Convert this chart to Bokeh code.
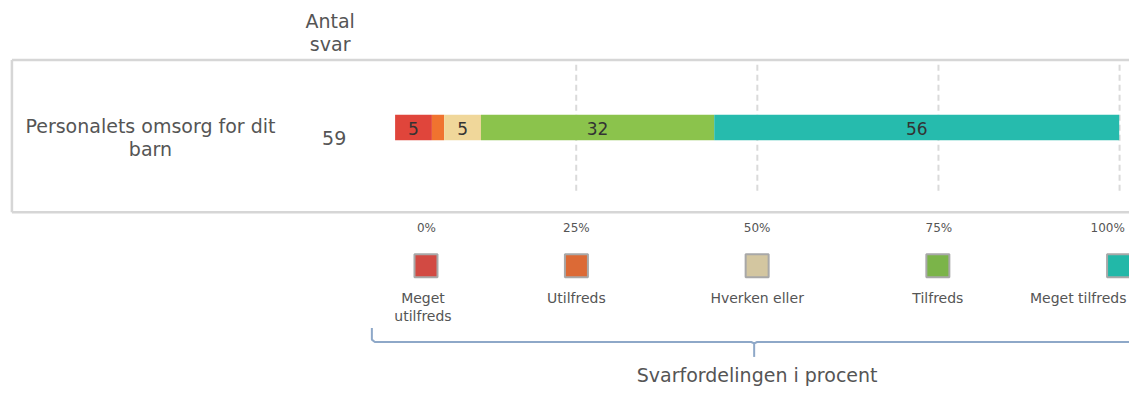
from bokeh.plotting import figure
from bokeh.models import Range1d
from bokeh.embed import file_html
from bokeh.resources import INLINE
from bokeh.core.properties import value

# ---- data ----
question = ["Personalets omsorg for dit", "barn"]
n_answers = 59
categories = ["Meget utilfreds", "Utilfreds", "Hverken eller", "Tilfreds", "Meget tilfreds"]
legend_labels = [["Meget", "utilfreds"], ["Utilfreds"], ["Hverken eller"], ["Tilfreds"], ["Meget tilfreds"]]
percent = [5.08, 1.69, 5.08, 32.2, 55.9]
bar_colors = ["#e0453b", "#f0732f", "#f0d79a", "#8bc34c", "#26bbad"]
legend_colors = ["#d24a43", "#dc6a36", "#d3c6a0", "#7bb449", "#22b8a8"]
tick_labels = ["0%", "25%", "50%", "75%", "100%"]
grid_values = [25, 50, 75, 100]

FONT = "DejaVu Sans"
W, H = 1129, 391          # canvas size (fits window with 8px margin)
REF_W, REF_H = 1137, 407  # layout is designed in reference pixel units
ORIGIN = 397.4            # ref px of 0 %
SCALE = 7.296             # ref px per %


def px(s):
    """reference x pixel -> data x (percent units)"""
    return (s - ORIGIN) / SCALE


p = figure(width=W, height=H, output_backend="svg", toolbar_location=None,
           x_range=Range1d(px(0), px(REF_W)), y_range=Range1d(REF_H, 0),
           min_border=0, outline_line_color=None)
p.axis.visible = False
p.grid.visible = False

# frame box
box_c = "#d6d6d6"
p.segment(x0=[px(11.5), px(11.5), px(11.5)], y0=[62, 220.5, 62],
          x1=[px(REF_W + 5), px(REF_W + 5), px(11.5)], y1=[62, 220.5, 220.5],
          line_color=box_c, line_width=2.5)

# dashed grid
p.segment(x0=grid_values, x1=grid_values, y0=[67] * len(grid_values), y1=[198] * len(grid_values),
          line_color="#dadada", line_width=2, line_dash="6 4")

# stacked bar
lefts, rights = [], []
acc = 0.0
for v in percent:
    lefts.append(acc)
    acc += v
    rights.append(acc)
p.quad(left=lefts, right=rights, bottom=[145.5] * 5, top=[119] * 5,
       fill_color=bar_colors, line_color=None)
lab_x, lab_t = [], []
for l, r, v in zip(lefts, rights, percent):
    if v >= 3:
        lab_x.append((l + r) / 2)
        lab_t.append(str(round(v)))
p.text(x=lab_x, y=[133] * len(lab_x), text=lab_t, text_align="center", text_baseline="middle",
       text_font=value(FONT), text_font_size="17px", text_color="#333333")

# left texts
p.text(x=[px(151)] * 2, y=[131, 155], text=question, text_align="center", text_baseline="middle",
       text_font=value(FONT), text_font_size="19px", text_color="#555555")
p.text(x=[px(332)] * 2, y=[21, 45], text=["Antal", "svar"], text_align="center", text_baseline="middle",
       text_font=value(FONT), text_font_size="19px", text_color="#555555")
p.text(x=[px(336)], y=[143], text=[str(n_answers)], text_align="center", text_baseline="middle",
       text_font=value(FONT), text_font_size="19px", text_color="#555555")

# tick labels (positioned like the reference)
tick_px = [429, 580, 762, 945, 1115]
p.text(x=[px(t) for t in tick_px], y=[237] * 5, text=tick_labels, text_align="center",
       text_baseline="middle", text_font=value(FONT), text_font_size="12px", text_color="#555555")

# legend
leg_px = [428.5, 580, 762, 944, 1126]
p.scatter(x=[px(t) for t in leg_px], y=[276] * 5, marker="square", size=23,
          fill_color=legend_colors, line_color="#a8a8a8", line_width=2)
lx, ly, lt, la = [], [], [], []
for k, (cx, lines) in enumerate(zip(leg_px, legend_labels)):
    for i, t in enumerate(lines):
        if k == len(leg_px) - 1:
            lx.append(px(1134))
            la.append("right")
        else:
            lx.append(px(cx - (3 if len(lines) > 1 else 0)))
            la.append("center")
        ly.append(310 + 18 * i)
        lt.append(t)
p.text(x=lx, y=ly, text=lt, text_align=la, text_baseline="middle",
       text_font=value(FONT), text_font_size="14px", text_color="#555555")

# brace
brace_c = "#8ea8c8"
p.line(x=[px(374), px(374), px(377), px(756), px(759), px(762), px(REF_W + 5)],
       y=[341, 353, 355.5, 355.5, 357, 355.5, 355.5], line_color=brace_c, line_width=2)
p.line(x=[px(759), px(759)], y=[356, 371], line_color=brace_c, line_width=2)
p.text(x=[px(762)], y=[390], text=["Svarfordelingen i procent"], text_align="center",
       text_baseline="middle", text_font=value(FONT), text_font_size="19px", text_color="#555555")

open("out.html", "w").write(file_html(p, INLINE))
